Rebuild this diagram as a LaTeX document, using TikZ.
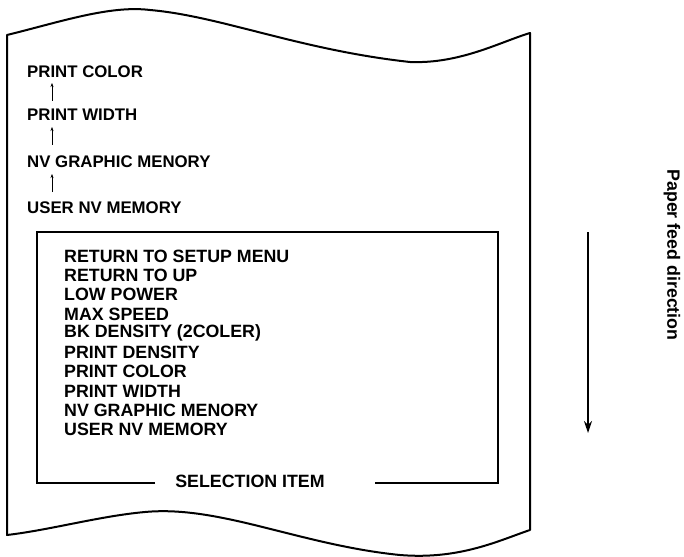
\documentclass[tikz,border=0pt]{standalone}
\usepackage{fontspec}
\setmainfont{Liberation Sans}
\usetikzlibrary{arrows.meta}
\begin{document}
\begin{tikzpicture}[x=1pt,y=-1pt,
  lbl/.style={anchor=west,inner sep=0pt,font=\bfseries\fontsize{16.8}{17}\selectfont},
  ilbl/.style={anchor=west,inner sep=0pt,font=\bfseries\fontsize{17.8}{18}\selectfont},
  sarr/.style={-{Stealth[length=4pt,width=3pt]},line width=0.5pt}]
\useasboundingbox (0,0) rectangle (684,556);
% paper
\draw[line width=2pt,line join=round]
  (7,35) .. controls (60,22) and (110,5) .. (150,10)
  .. controls (220,16) and (300,50) .. (410,62)
  .. controls (460,64) and (500,42) .. (530,33)
  -- (530,530)
  .. controls (500,540) and (460,560) .. (400,555)
  .. controls (300,545) and (220,505) .. (145,512)
  .. controls (100,516) and (50,530) .. (7,535) -- cycle;
\node[lbl] (a) at (27,72) {PRINT COLOR};
\node[lbl] (b) at (27,115) {PRINT WIDTH};
\node[lbl] (c) at (27,162) {NV GRAPHIC MENORY};
\node[lbl] (d) at (27,208) {USER NV MEMORY};
\coordinate (a1) at (52,83); \coordinate (b0) at (52,101);
\coordinate (b1) at (52,127); \coordinate (c0) at (52,145);
\coordinate (c1) at (52,174); \coordinate (d0) at (52,192);
\draw[sarr] (b0) -- (a1);
\draw[sarr] (c0) -- (b1);
\draw[sarr] (d0) -- (c1);
% box
\node[ilbl,anchor=center] (sel) at (250,481) {SELECTION ITEM};
\draw[line width=1.2pt] (155,483) -- (37,483) -- (37,232) -- (498,232) -- (498,483) -- (375,483);
\foreach \t [count=\i from 0] in {RETURN TO SETUP MENU,RETURN TO UP,LOW POWER,MAX SPEED,BK DENSITY (2COLER),PRINT DENSITY,PRINT COLOR,PRINT WIDTH,NV GRAPHIC MENORY,USER NV MEMORY}
  \node[ilbl] (i\i) at (64,{256+19.3*\i}) {\t};
% feed arrow
\coordinate (fs) at (588,232);
\coordinate (fe) at (588,433);
\draw[line width=2pt,-{Stealth[length=12pt,width=8pt]}] (fs) -- (fe);
\node[ilbl,anchor=center,rotate=-90] (feed) at (672,255) {Paper feed direction};
\end{tikzpicture}
\end{document}
